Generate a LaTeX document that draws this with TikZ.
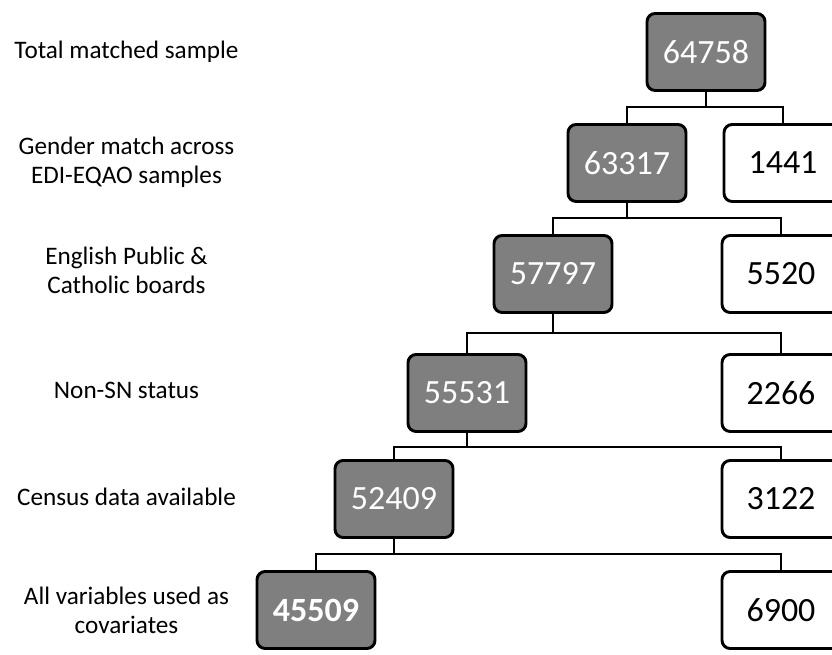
\documentclass[tikz,border=0pt]{standalone}
\usepackage{fontspec}
\setmainfont{Carlito}
\definecolor{boxgray}{HTML}{7F7F7F}
\begin{document}
\begin{tikzpicture}[x=0.03cm, y=-0.03cm,
        kept/.style={draw, line width=2.5pt, rounded corners=7pt, fill=boxgray, text=white,
            minimum width=3.54cm, minimum height=2.31cm, inner sep=0pt,
            font=\fontsize{29}{33}\selectfont},
        dropped/.style={kept, fill=white, text=black},
        stage/.style={align=center, font=\fontsize{21.5}{24.5}\selectfont},
        link/.style={line width=2.5pt}]
        \clip (0,0) rectangle (832,655);
        
        % steps on the left
        \node[stage] (s0) at (126.5,52) {Total matched sample};
        \node[stage] (s1) at (126.5,162) {Gender match across\\EDI-EQAO samples};
        \node[stage] (s2) at (126.5,270) {English Public \&\\Catholic boards};
        \node[stage] (s3) at (126.5,390) {Non-SN status};
        \node[stage] (s4) at (126.5,497) {Census data available};
        \node[stage] (s5) at (126.5,610) {All variables used as\\covariates};
        
        % kept and dropped counts
        \node[kept] (k0) at (706,52) {64758};
        \node[kept] (k1) at (627,163) {63317};
        \node[dropped] (d1) at (783,163) {1441};
        \node[kept] (k2) at (553,274) {57797};
        \node[dropped] (d2) at (781,274) {5520};
        \node[kept] (k3) at (467,393) {55531};
        \node[dropped] (d3) at (781,393) {2266};
        \node[kept] (k4) at (394,499) {52409};
        \node[dropped] (d4) at (781,499) {3122};
        \node[kept] (k5) at (316,610) {\bfseries 45509};
        \node[dropped] (d5) at (781,610) {6900};
        
        \coordinate (j1) at (706,107);
        \coordinate (j2) at (627,218);
        \coordinate (j3) at (553,333);
        \coordinate (j4) at (467,447);
        \coordinate (j5) at (394,554);
        
        \foreach \p/\c in {0/1,1/2,2/3,3/4,4/5} {
            \draw[link] (k\p.south) -- (j\c);
            \draw[link] (k\c.north) |- (j\c) -| (d\c.north);
        }
    \end{tikzpicture}
\end{document}
